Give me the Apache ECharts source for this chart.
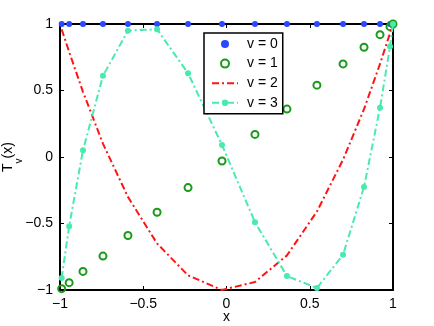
<!DOCTYPE html>
<html>
<head>
<meta charset="utf-8">
<script src="https://cdn.jsdelivr.net/npm/echarts@6/dist/echarts.min.js"></script>
<style>
  html, body { margin: 0; background: #fff; }
  #chart { width: 434px; height: 326px; }
</style>
</head>
<body>
<div id="chart"></div>
<script>
// sample points
const xs = [-0.99, -0.945, -0.862, -0.742, -0.592, -0.417, -0.231, -0.027, 0.171, 0.363, 0.543, 0.700, 0.826, 0.922, 0.982, 1.0];
const v0 = [1, 1, 1, 1, 1, 1, 1, 1, 1, 1, 1, 1, 1, 1, 1, 1];
const v1 = [-0.99, -0.945, -0.86, -0.745, -0.59, -0.415, -0.23, -0.03, 0.17, 0.36, 0.54, 0.70, 0.825, 0.92, 0.98, 1.0];
const v2 = [0.96, 0.79, 0.49, 0.10, -0.30, -0.65, -0.89, -1.0, -0.94, -0.74, -0.41, -0.02, 0.36, 0.70, 0.93, 1.0];
const v3 = [-0.91, -0.52, 0.05, 0.61, 0.95, 0.96, 0.63, 0.09, -0.49, -0.895, -0.985, -0.735, -0.225, 0.37, 0.83, 1.0];
const names = ['v = 0', 'v = 1', 'v = 2', 'v = 3'];

const font = "'Liberation Sans', Arial, Helvetica, sans-serif";
const pairs = ys => xs.map((x, i) => [x, ys[i]]);
const minus = v => String(v).replace('-', '\u2212');

const chart = echarts.init(document.getElementById('chart'));

const axisCommon = {
  type: 'value',
  min: -1,
  max: 1,
  interval: 0.5,
  axisLine: { show: true, onZero: false, lineStyle: { color: '#000', width: 2 } },
  axisTick: { show: true, inside: true, length: 4, lineStyle: { color: '#000', width: 1 } },
  splitLine: { show: false },
};

chart.setOption({
  animation: false,
  grid: { left: 60, right: 41, top: 24, bottom: 36, outerBoundsMode: 'none', containLabel: false },
  xAxis: [
    {
      ...axisCommon,
      position: 'bottom',
      axisLabel: { color: '#000', fontSize: 14, fontFamily: font, margin: 7, formatter: minus },
      name: 'x',
      nameLocation: 'middle',
      nameGap: 20,
      nameMoveOverlap: false,
      nameTextStyle: { color: '#000', fontSize: 14, fontFamily: font }
    },
    { ...axisCommon, position: 'top', axisLabel: { show: false } }
  ],
  yAxis: [
    {
      ...axisCommon,
      position: 'left',
      axisLabel: { color: '#000', fontSize: 14, fontFamily: font, margin: 7, formatter: minus },
      name: '{a|T}{b|v}{a|(x)}',
      nameLocation: 'middle',
      nameGap: 36,
      nameMoveOverlap: false,
      nameTextStyle: {
        color: '#000',
        fontFamily: font,
        rich: {
          a: { fontSize: 14, fontFamily: font, color: '#000' },
          b: { fontSize: 10, fontFamily: font, color: '#000', padding: [22, 0, 0, 0] }
        }
      }
    },
    { ...axisCommon, position: 'right', axisLabel: { show: false } }
  ],
  legend: {
    orient: 'vertical',
    left: 204,
    top: 33,
    padding: [4, 5, 4, 7],
    itemWidth: 26,
    itemHeight: 8,
    itemGap: 5.6,
    borderColor: '#000',
    borderWidth: 1.5,
    backgroundColor: '#fff',
    textStyle: { color: '#000', fontSize: 14, fontFamily: font, lineHeight: 14, padding: [0, 0, 0, 4] },
    data: [
      names[0],
      names[1],
      { name: names[2], itemStyle: { opacity: 0 } },
      names[3]
    ]
  },
  series: [
    {
      name: names[0],
      type: 'scatter',
      data: pairs(v0),
      symbol: 'circle',
      symbolSize: 6,
      clip: false,
      itemStyle: { color: '#2a48ff', opacity: 1 }
    },
    {
      name: names[1],
      type: 'scatter',
      data: pairs(v1),
      symbol: 'circle',
      symbolSize: 7,
      clip: false,
      itemStyle: { color: 'rgba(0,0,0,0)', borderColor: '#1a9a1a', borderWidth: 2, opacity: 1 }
    },
    {
      name: names[2],
      type: 'line',
      data: pairs(v2),
      symbol: 'none',
      clip: false,
      itemStyle: { color: '#ff1414' },
      lineStyle: { color: '#ff1414', width: 2, type: [7, 3, 2, 3] }
    },
    {
      name: names[3],
      type: 'line',
      data: pairs(v3),
      symbol: 'circle',
      symbolSize: 6,
      showSymbol: true,
      clip: false,
      itemStyle: { color: '#48eaae' },
      lineStyle: { color: '#48eaae', width: 2, type: [7, 3, 2, 3] }
    }
  ]
});
</script>
</body>
</html>
